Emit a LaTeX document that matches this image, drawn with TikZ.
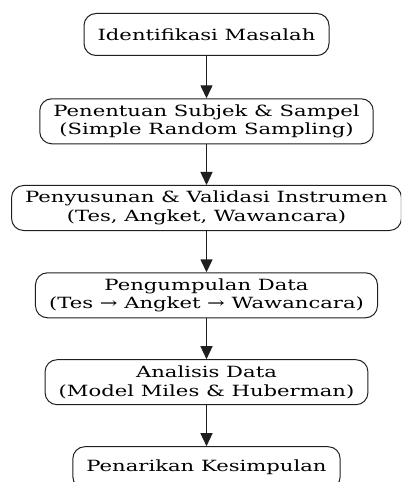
\documentclass[tikz,border=0pt]{standalone}
\usepackage{fontspec}
\setmainfont{DejaVu Serif}[FakeStretch=1.369]
\usetikzlibrary{arrows.meta}
\begin{document}
\begin{tikzpicture}[x=1bp,y=-1bp,
  stepbox/.style={draw=black!88, line width=1bp, rounded corners=12bp, align=center,
    inner xsep=13.6bp, inner ysep=0pt, font=\fontsize{15.5}{18.5}\selectfont, text=black},
  onebox/.style={stepbox, minimum height=42bp},
  twobox/.style={stepbox, minimum height=45bp},
  conn/.style={draw=black!88, line width=1.4bp, -{Triangle[length=13bp,width=12bp]}}]
\useasboundingbox (0,0) rectangle (401,482);
\clip (0,0) rectangle (401,482);
\node[onebox] (n1) at (206.5,34.5) {Identifikasi Masalah};
\node[twobox] (n2) at (206.5,121.3) {Penentuan Subjek \& Sampel\\(Simple Random Sampling)};
\node[twobox] (n3) at (206.5,208) {Penyusunan \& Validasi Instrumen\\(Tes, Angket, Wawancara)};
\node[twobox] (n4) at (206.5,295.3) {Pengumpulan Data\\(Tes → Angket → Wawancara)};
\node[twobox] (n5) at (206.5,382.2) {Analisis Data\\(Model Miles \& Huberman)};
\node[onebox] (n6) at (206.5,467.7) {Penarikan Kesimpulan};
\draw[conn] (n1.south) -- (n2.north);
\draw[conn] (n2.south) -- (n3.north);
\draw[conn] (n3.south) -- (n4.north);
\draw[conn] (n4.south) -- (n5.north);
\draw[conn] (n5.south) -- (n6.north);
\end{tikzpicture}
\end{document}
